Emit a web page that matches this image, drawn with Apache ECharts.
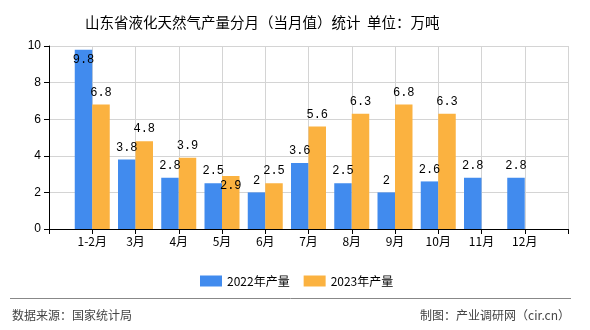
<!DOCTYPE html>
<html>
<head>
<meta charset="utf-8">
<script src="https://cdn.jsdelivr.net/npm/echarts@6/dist/echarts.min.js"></script>
<style>html,body{margin:0;padding:0;background:#fff}#c{width:590px;height:330px}</style>
</head>
<body>
<div id="c"></div>
<script>
const categories = ['', '1-2月', '3月', '4月', '5月', '6月', '7月', '8月', '9月', '10月', '11月', '12月', ''];
const seriesNames = ['2022年产量', '2023年产量'];
const values2022 = [null, 9.8, 3.8, 2.8, 2.5, 2, 3.6, 2.5, 2, 2.6, 2.8, 2.8, null];
const values2023 = [null, 6.8, 4.8, 3.9, 2.9, 2.5, 5.6, 6.3, 6.8, 6.3, null, null, null];
const yTicks = [0, 2, 4, 6, 8, 10];
const insideLabels2022 = ['1-2月'];
const insideLabels2023 = ['5月'];

const labelFont = { fontFamily: 'Liberation Mono, DejaVu Sans Mono, monospace', fontSize: 12, color: '#000' };

function build(values, insideCats) {
  return values.map((v, i) => {
    if (v === null) return null;
    if (insideCats.indexOf(categories[i]) >= 0) {
      return { value: v, label: { position: 'insideTop', distance: 4 } };
    }
    return v;
  });
}

const chart = echarts.init(document.getElementById('c'));
chart.setOption({
  animation: false,
  backgroundColor: '#fff',
  title: {
    text: '山东省液化天然气产量分月（当月值）统计  单位：万吨',
    left: 80, top: 10,
    textStyle: { fontSize: 14.5, fontWeight: 'normal', color: '#000', fontFamily: 'Noto Sans CJK SC, sans-serif' }
  },
  legend: {
    data: seriesNames,
    left: 195, top: 270,
    itemWidth: 22, itemHeight: 11, itemGap: 14,
    icon: 'rect',
    textStyle: { fontSize: 12, color: '#000', fontFamily: 'Noto Sans CJK SC, sans-serif' }
  },
  grid: { left: 49, right: 22, top: 46, bottom: 101, containLabel: false },
  xAxis: {
    type: 'category',
    data: categories,
    boundaryGap: false,
    axisLine: { lineStyle: { color: '#000', width: 1 } },
    axisTick: { show: true, interval: 0, length: 5, lineStyle: { color: '#000' } },
    axisLabel: { interval: 0, color: '#000', fontSize: 12, margin: 6, fontFamily: 'Noto Sans CJK SC, sans-serif' },
    splitLine: { show: true, interval: 0, lineStyle: { color: '#d4d4d4' } }
  },
  yAxis: {
    type: 'value',
    min: yTicks[0], max: yTicks[yTicks.length - 1], interval: 2,
    axisLine: { show: true, lineStyle: { color: '#000' } },
    axisTick: { show: true, length: 5, lineStyle: { color: '#000' } },
    axisLabel: { color: '#000', fontSize: 12, margin: 8, fontFamily: 'Liberation Sans, sans-serif' },
    splitLine: { show: true, lineStyle: { color: '#d4d4d4' } }
  },
  series: [
    {
      name: seriesNames[0], type: 'bar', data: build(values2022, insideLabels2022),
      barWidth: 17.5, barGap: '0%',
      itemStyle: { color: '#418BEE' },
      label: Object.assign({ show: true, position: 'top', distance: 6 }, labelFont)
    },
    {
      name: seriesNames[1], type: 'bar', data: build(values2023, insideLabels2023),
      barWidth: 17.5, barGap: '0%',
      itemStyle: { color: '#FBB240' },
      label: Object.assign({ show: true, position: 'top', distance: 6 }, labelFont)
    }
  ],
  graphic: [
    { type: 'line', shape: { x1: 10, y1: 298.5, x2: 571, y2: 298.5 }, style: { stroke: '#888', lineWidth: 1 } },
    { type: 'text', left: 12, top: 309, style: { text: '数据来源：国家统计局', fontSize: 12, fill: '#444', fontFamily: 'Noto Sans CJK SC, sans-serif' } },
    { type: 'text', right: 20, top: 309, style: { text: '制图：产业调研网（cir.cn）', fontSize: 12, fill: '#444', fontFamily: 'Noto Sans CJK SC, sans-serif' } }
  ]
});
</script>
</body>
</html>
